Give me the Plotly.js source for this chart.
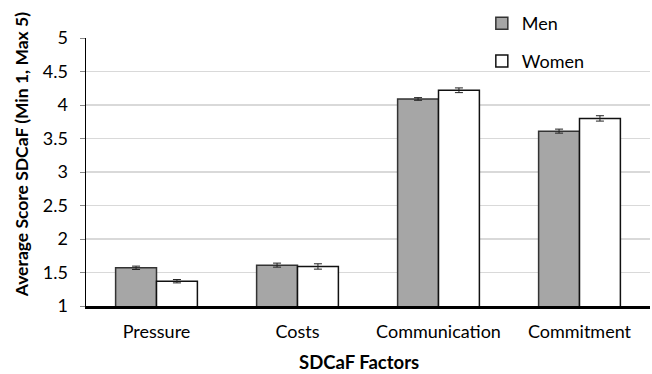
<!DOCTYPE html>
<html><head><meta charset="utf-8">
<script src="https://cdn.plot.ly/plotly-3.0.1.min.js"></script>
<style>html,body{margin:0;padding:0;background:#fff}#c{width:652px;height:374px}</style>
</head><body><div id="c"></div>
<script>
const categories = ["Pressure", "Costs", "Communication", "Commitment"];
const menValues = [1.57, 1.61, 4.09, 3.61];
const menErrors = [0.025, 0.03, 0.02, 0.03];
const womenValues = [1.37, 1.59, 4.22, 3.80];
const womenErrors = [0.025, 0.04, 0.035, 0.04];
const yTicks = [1, 1.5, 2, 2.5, 3, 3.5, 4, 4.5, 5];
const yTickLabels = ["1", "1.5", "2", "2.5", "3", "3.5", "4", "4.5", "5"];
const xTitle = "SDCaF Factors";
const yTitle = "Average Score SDCaF (Min 1, Max 5)";

const font = "Lato, Open Sans, sans-serif";
const traces = [
  {type:"bar", name:"Men", x:categories, y:menValues,
   marker:{color:"#a6a6a6", line:{color:"#333333", width:1.5}},
   error_y:{type:"data", array:menErrors, visible:true, color:"#222", thickness:1, width:4},
   legend:"legend"},
  {type:"bar", name:"Women", x:categories, y:womenValues,
   marker:{color:"#ffffff", line:{color:"#111111", width:1.5}},
   error_y:{type:"data", array:womenErrors, visible:true, color:"#222", thickness:1, width:4},
   legend:"legend2"}
];
const layout = {
  width:652, height:374,
  margin:{l:86, r:2, t:38, b:68, autoexpand:false},
  paper_bgcolor:"#fff", plot_bgcolor:"#fff",
  font:{family:font, color:"#000", size:18},
  barmode:"group", bargap:0.42, bargroupgap:0,
  showlegend:true,
  legend:{xref:"container", yref:"container", x:0.739, y:0.937, xanchor:"left", yanchor:"middle", font:{size:18, family:font}, bgcolor:"rgba(0,0,0,0)", itemwidth:30},
  legend2:{xref:"container", yref:"container", x:0.739, y:0.836, xanchor:"left", yanchor:"middle", font:{size:18, family:font}, bgcolor:"rgba(0,0,0,0)", itemwidth:30},
  xaxis:{showline:true, linecolor:"#000", linewidth:2.5, ticks:"", showgrid:false,
    tickfont:{size:18, family:font}, zeroline:false, ticklabelstandoff:8},
  yaxis:{range:[1,5], tickvals:yTicks, ticktext:yTickLabels, showline:true, linecolor:"#000", linewidth:1.5,
    ticks:"outside", ticklen:5, tickcolor:"#888", showgrid:true, gridcolor:"#d9d9d9", gridwidth:1.5,
    tickfont:{size:18, family:font}, zeroline:false, ticklabelstandoff:8},
  annotations:[
    {text:"<b>"+xTitle+"</b>", xref:"paper", yref:"paper", x:0.484, y:-0.208, xanchor:"center", yanchor:"middle",
     showarrow:false, borderpad:0, font:{size:18.5, family:font, color:"#000"}},
    {text:"<b>"+yTitle+"</b>", xref:"paper", yref:"paper", x:-0.115, y:0.563, xanchor:"center", yanchor:"middle",
     textangle:-90, showarrow:false, borderpad:0, font:{size:17.5, family:font, color:"#000"}}
  ]
};
Plotly.newPlot("c", traces, layout, {displayModeBar:false, staticPlot:true});
</script></body></html>
